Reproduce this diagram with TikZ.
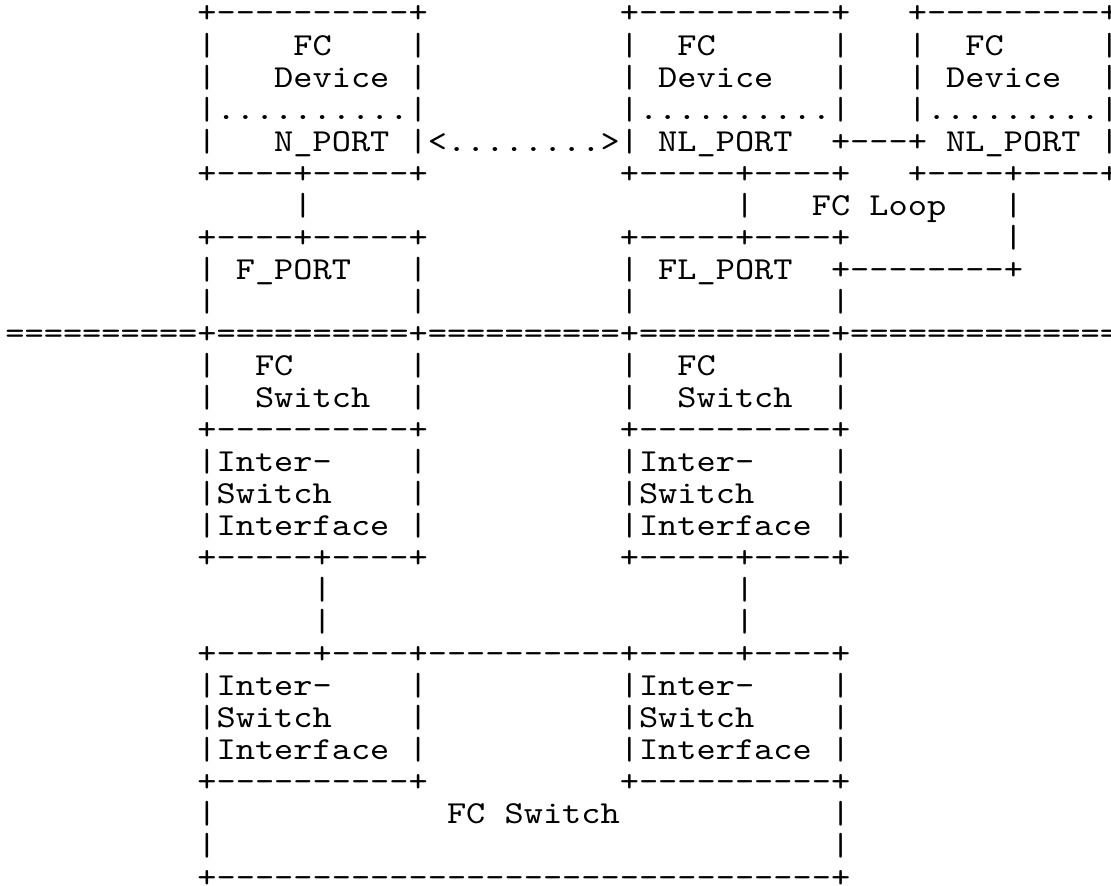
\documentclass[tikz,border=0pt]{standalone}
\usepackage{fontspec}
\setmonofont{lmmono10-regular.otf}[FakeStretch=1.1429]
\tikzset{
  asc/.style={inner sep=0pt, outer sep=0pt, anchor=base west,
    text height=20pt, text depth=0pt,
    font=\fontsize{32pt}{32pt}\selectfont\ttfamily, text=black}
}
% \seg{name}{row}{column}{text}
\newcommand\seg[4]{\node[asc] (#1) at ({5.4pt+19.2pt*#3},{-23pt-32pt*#2}) {#4};}
\begin{document}
\begin{tikzpicture}
\fill[white] (0,0) rectangle (1111pt,-886pt);
\useasboundingbox (0,0) rectangle (1111pt,-886pt);
% row 0
\seg{r0a}{0}{10}{+----------+}
\seg{r0b}{0}{32}{+----------+}
\seg{r0c}{0}{47}{+---------+}
% row 1
\seg{r1a}{1}{10}{|~~~~FC~~~~|}
\seg{r1b}{1}{32}{|~~FC~~~~~~|}
\seg{r1c}{1}{47}{|~~FC~~~~~|}
% row 2
\seg{r2a}{2}{10}{|~~~Device~|}
\seg{r2b}{2}{32}{|~Device~~~|}
\seg{r2c}{2}{47}{|~Device~~|}
% row 3
\seg{r3a}{3}{10}{|..........|}
\seg{r3b}{3}{32}{|..........|}
\seg{r3c}{3}{47}{|.........|}
% row 4
\seg{r4a}{4}{10}{|~~~N\_PORT~|<........>|~NL\_PORT~~+---+~NL\_PORT~|}
% row 5
\seg{r5a}{5}{10}{+----+-----+}
\seg{r5b}{5}{32}{+-----+----+}
\seg{r5c}{5}{47}{+----+----+}
% row 6
\seg{r6a}{6}{15}{|}
\seg{r6b}{6}{38}{|~~~FC~Loop~~~|}
% row 7
\seg{r7a}{7}{10}{+----+-----+}
\seg{r7b}{7}{32}{+-----+----+}
\seg{r7c}{7}{52}{|}
% row 8
\seg{r8a}{8}{10}{|~F\_PORT~~~|}
\seg{r8b}{8}{32}{|~FL\_PORT~~+--------+}
% row 9
\seg{r9a}{9}{10}{|~~~~~~~~~~|}
\seg{r9b}{9}{32}{|~~~~~~~~~~|}
% row 10
\seg{r10a}{10}{0}{==========+==========+==========+==========+==============}
% row 11
\seg{r11a}{11}{10}{|~~FC~~~~~~|}
\seg{r11b}{11}{32}{|~~FC~~~~~~|}
% row 12
\seg{r12a}{12}{10}{|~~Switch~~|}
\seg{r12b}{12}{32}{|~~Switch~~|}
% row 13
\seg{r13a}{13}{10}{+----------+}
\seg{r13b}{13}{32}{+----------+}
% rows 14-16
\seg{r14a}{14}{10}{|Inter-~~~~|}
\seg{r14b}{14}{32}{|Inter-~~~~|}
\seg{r15a}{15}{10}{|Switch~~~~|}
\seg{r15b}{15}{32}{|Switch~~~~|}
\seg{r16a}{16}{10}{|Interface~|}
\seg{r16b}{16}{32}{|Interface~|}
% row 17
\seg{r17a}{17}{10}{+-----+----+}
\seg{r17b}{17}{32}{+-----+----+}
% rows 18-19
\seg{r18a}{18}{16}{|}
\seg{r18b}{18}{38}{|}
\seg{r19a}{19}{16}{|}
\seg{r19b}{19}{38}{|}
% row 20
\seg{r20a}{20}{10}{+-----+----+----------+-----+----+}
% rows 21-23
\seg{r21a}{21}{10}{|Inter-~~~~|}
\seg{r21b}{21}{32}{|Inter-~~~~|}
\seg{r22a}{22}{10}{|Switch~~~~|}
\seg{r22b}{22}{32}{|Switch~~~~|}
\seg{r23a}{23}{10}{|Interface~|}
\seg{r23b}{23}{32}{|Interface~|}
% row 24
\seg{r24a}{24}{10}{+----------+}
\seg{r24b}{24}{32}{+----------+}
% row 25
\seg{r25a}{25}{10}{|}
\seg{r25b}{25}{23}{FC~Switch}
\seg{r25c}{25}{43}{|}
% row 26
\seg{r26a}{26}{10}{|}
\seg{r26b}{26}{43}{|}
% row 27
\seg{r27a}{27}{10}{+--------------------------------+}
\end{tikzpicture}
\end{document}
